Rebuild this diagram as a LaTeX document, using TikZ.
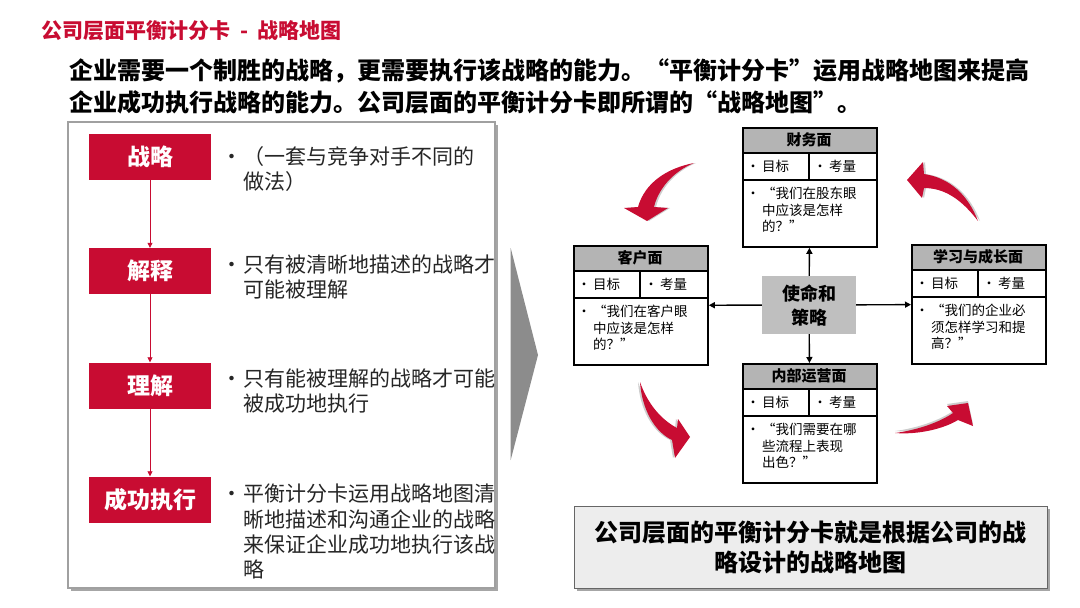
\documentclass[tikz,border=0pt]{standalone}
\usepackage{fontspec}
\setmainfont{Noto Sans CJK SC}
\usetikzlibrary{arrows.meta,positioning}
\definecolor{bscred}{RGB}{200,12,50}
\definecolor{headgray}{RGB}{180,180,180}
\definecolor{panelgray}{RGB}{160,160,160}
\definecolor{shadegray}{RGB}{205,205,205}

% narrow bullets for the lists
\newcommand{\stepdot}{\makebox[15pt][l]{\makebox[8pt]{•}}}
\newcommand{\celldot}{\makebox[12pt][l]{\makebox[6pt]{•}}}

% one perspective of the map: name, left, top, title, body
\newcommand{\perspective}[5]{%
  \begin{scope}[shift={(#2,#3)}]
    \fill[headgray] (0,0) rectangle (134,26);
    \draw[cellline] (0,26) -- (134,26) (0,53) -- (134,53) (67,26) -- (67,53);
    \node[perspbox] (#1) at (0,0) {};
    \node[headtext] (#1-title) at (67,13) {#4};
    \node[celltext] (#1-goal) at (8,39.5) {\celldot 目标};
    \node[celltext] (#1-measure) at (75,39.5) {\celldot 考量};
    \node[bodytext] (#1-body) at (8,60)
      {\begin{tabular}{@{}l@{}l@{}}\celldot&#5\end{tabular}};
  \end{scope}}

\begin{document}
\begin{tikzpicture}
    [x=1pt,y=-1pt,
    redbox/.style={fill=bscred, text=white, minimum width=122pt, minimum height=46pt,
      inner sep=0pt, font=\bfseries\fontsize{23}{26}\selectfont},
    flowarrow/.style={draw=bscred, line width=0.8pt, -{Triangle[length=5pt,width=5pt]}},
    steptext/.style={anchor=north west, inner sep=0pt, text=black!85,
      font=\fontsize{21}{24.5}\selectfont},
    perspbox/.style={draw, line width=1.8pt, anchor=north west, minimum width=134pt,
      minimum height=119pt, inner sep=0pt},
    cellline/.style={line width=1.2pt},
    headtext/.style={inner sep=0pt, font=\bfseries\fontsize{15}{18}\selectfont},
    celltext/.style={anchor=west, inner sep=0pt, font=\fontsize{13.5}{16}\selectfont},
    bodytext/.style={anchor=north west, inner sep=0pt, font=\fontsize{13.5}{16.5}\selectfont},
    mission/.style={fill=headgray!85, minimum width=94pt, minimum height=58pt, inner sep=0pt,
      align=center, font=\bfseries\fontsize{18}{24}\selectfont},
    maparrow/.style={line width=1.4pt, -{Triangle[length=6pt,width=6pt]}},
    summary/.style={draw=black!60, line width=1pt, fill=black!7, minimum width=473pt,
      minimum height=82pt, inner sep=0pt, align=center,
      font=\bfseries\fontsize{24}{30}\selectfont}]
    \useasboundingbox (0,0) rectangle (1080,608);
    %title
    \node[anchor=west, inner sep=0pt, text=bscred, font=\bfseries\fontsize{21}{24}\selectfont]
      (title) at (41,31) {公司层面平衡计分卡\hspace{5pt} - \hspace{5pt}战略地图};
    \node[anchor=north west, inner sep=0pt, align=left, font=\bfseries\fontsize{24}{32}\selectfont]
      (intro) at (69,58) {企业需要一个制胜的战略，更需要执行该战略的能力。“平衡计分卡”运用战略地图来提高\\
      企业成功执行战略的能力。公司层面的平衡计分卡即所谓的“战略地图”。};
    %left panel
    \fill[black!35] (71,125) rectangle (498,591);
    \draw[panelgray, line width=1.8pt, fill=white] (68,122) rectangle (495,588);
    \node[redbox] (strat) at (150,157) {战略};
    \node[redbox] (interp) at (150,271) {解释};
    \node[redbox] (underst) at (150,385.5) {理解};
    \node[redbox] (exec) at (150,499.5) {成功执行};
    \draw[flowarrow] (strat) -- (interp);
    \draw[flowarrow] (interp) -- (underst);
    \draw[flowarrow] (underst) -- (exec);
    \node[steptext] (strat-text) at (228,146)
      {\begin{tabular}{@{}l@{}l@{}}\stepdot&（一套与竞争对手不同的\\&做法）\end{tabular}};
    \node[steptext] (interp-text) at (228,255)
      {\begin{tabular}{@{}l@{}l@{}}\stepdot&只有被清晰地描述的战略才\\&可能被理解\end{tabular}};
    \node[steptext] (underst-text) at (228,369)
      {\begin{tabular}{@{}l@{}l@{}}\stepdot&只有能被理解的战略才可能\\&被成功地执行\end{tabular}};
    \node[steptext] (exec-text) at (228,484)
      {\begin{tabular}{@{}l@{}l@{}}\stepdot&平衡计分卡运用战略地图清\\&晰地描述和沟通企业的战略\\
        &来保证企业成功地执行该战\\&略\end{tabular}};
    %chevron
    \fill[black!45] (510.7,248) -- (538,355) -- (510.7,460) -- cycle;
    %strategy map
    \perspective{fin}{742}{127}{财务面}{“我们在股东眼\\&中应该是怎样\\&的？”}
    \perspective{cust}{573}{245}{客户面}{“我们在客户眼\\&中应该是怎样\\&的？”}
    \perspective{learn}{911}{244}{学习与成长面}{“我们的企业必\\&须怎样学习和提\\&高？”}
    \perspective{intl}{742}{363}{内部运营面}{“我们需要在哪\\&些流程上表现\\&出色？”}
    \node[mission] (mission) at (809,305) {使命和\\策略};
    \draw[maparrow] (mission) -- (fin);
    \draw[maparrow] (mission) -- (cust);
    \draw[maparrow] (mission) -- (learn);
    \draw[maparrow] (mission) -- (intl);
    %red bends
    \foreach \c/\dx in {shadegray/2,bscred/0}{
      \fill[\c, xshift=\dx] (694,163) .. controls (668,168) and (645,182) .. (638,207) -- (624,208)
        -- (647,221) -- (668,208) -- (654,207) .. controls (658,190) and (672,172) .. (694,163) -- cycle;
      \fill[\c, xshift=\dx] (978,221) .. controls (968,195) and (950,178) .. (924,174) -- (923,162)
        -- (907,180) -- (922,198) -- (924,188) .. controls (945,188) and (962,200) .. (978,221) -- cycle;
      \fill[\c, xshift=-\dx] (640,382) .. controls (642,410) and (655,432) .. (672,440) -- (675,458)
        -- (690,437) -- (678,419) -- (677,428) .. controls (662,420) and (648,405) .. (640,382) -- cycle;
      \fill[\c, yshift=\dx] (895,433) .. controls (920,435) and (945,428) .. (958,420) -- (973,426)
        -- (968,403) -- (947,406) -- (953,413) .. controls (940,422) and (918,430) .. (895,433) -- cycle;
    }
    %summary
    \fill[black!35] (577,509) rectangle (1050,591);
    \node[summary] (summary) at (810.5,547) {公司层面的平衡计分卡就是根据公司的战\\略设计的战略地图};
\end{tikzpicture}
\end{document}
